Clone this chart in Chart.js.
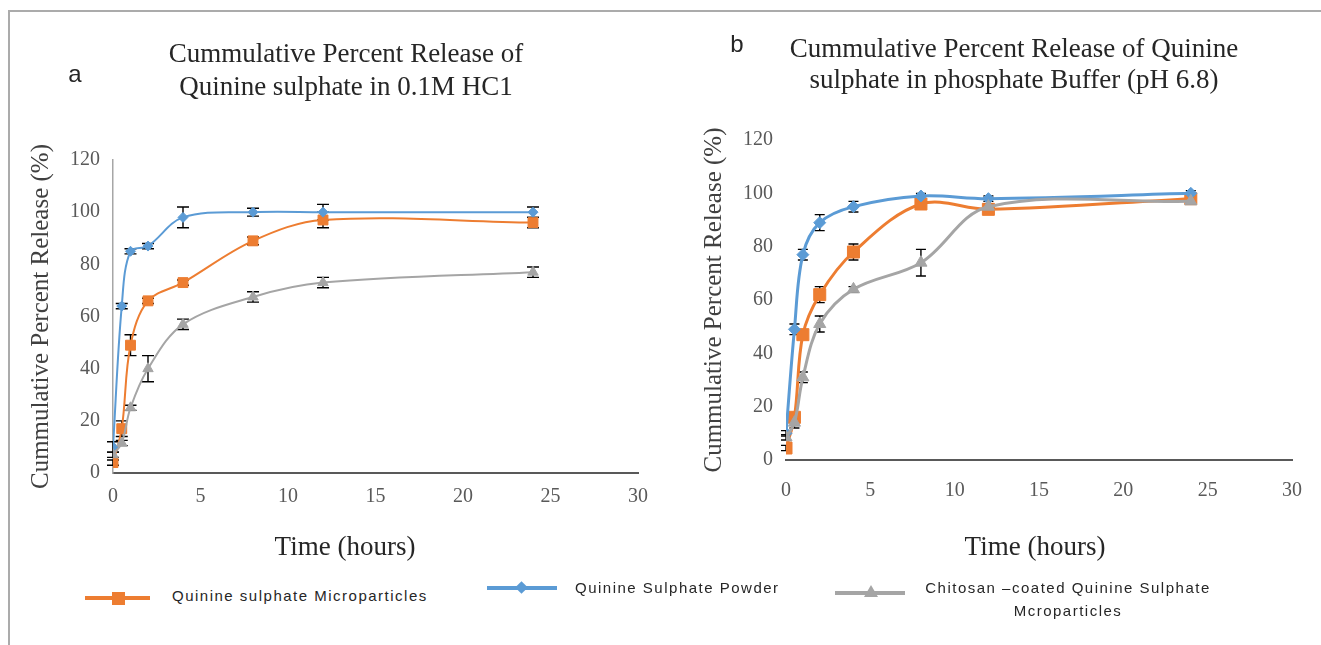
<!DOCTYPE html>
<html>
<head>
<meta charset="utf-8">
<script src="https://cdn.jsdelivr.net/npm/chart.js@4.4.1/dist/chart.umd.min.js"></script>
<style>
body { margin:0; background:#fff; width:1321px; height:645px; overflow:hidden; position:relative; }
#frame { position:absolute; left:8px; top:10px; right:0; bottom:0; border-top:2px solid #ababab; border-left:2px solid #ababab; }
#wrap-a { position:absolute; left:0; top:0; width:680px; height:580px; }
#wrap-b { position:absolute; left:680px; top:0; width:641px; height:580px; }
.lg-line { position:absolute; height:4px; }
.lg-text { position:absolute; font-family:"Liberation Sans", Arial, sans-serif; font-size:15px; letter-spacing:1.5px; color:#262626; line-height:23px; white-space:nowrap; }
</style>
</head>
<body>
<div id="frame"></div>
<div id="wrap-a"><canvas id="chart-a"></canvas></div>
<div id="wrap-b"><canvas id="chart-b"></canvas></div>

<div class="lg-line" style="left:85px; top:596px; width:65px; background:#ED7D31;"></div>
<div style="position:absolute; left:112px; top:592px; width:13px; height:13px; background:#ED7D31;"></div>
<div class="lg-text" style="left:172px; top:584px;">Quinine sulphate Microparticles</div>

<div class="lg-line" style="left:487px; top:586px; width:70px; background:#5B9BD5;"></div>
<div style="position:absolute; left:517px; top:583px; width:9px; height:9px; background:#5B9BD5; transform:rotate(45deg);"></div>
<div class="lg-text" style="left:575px; top:576px;">Quinine Sulphate Powder</div>

<div class="lg-line" style="left:835px; top:591px; width:70px; background:#A5A5A5;"></div>
<div style="position:absolute; left:864px; top:585px; width:0; height:0; border-left:7px solid transparent; border-right:7px solid transparent; border-bottom:12px solid #A5A5A5;"></div>
<div class="lg-text" style="left:918px; top:576px; width:300px; text-align:center;">Chitosan –coated Quinine Sulphate<br>Mcroparticles</div>

<script>
// sampling times (hours)
const hours = [0, 0.5, 1, 2, 4, 8, 12, 24];
const series_names = ["Quinine sulphate Microparticles", "Quinine Sulphate Powder", "Chitosan \u2013coated Quinine Sulphate Mcroparticles"];

// a: 0.1M HCl
const a_micro = [4, 17, 49, 66, 73, 89, 97, 96];
const a_powder = [10, 64, 85, 87, 98, 100, 100, 100];
const a_chitosan = [7, 11.5, 25, 40, 57, 67.5, 73, 77];
const a_micro_err = [1, 3, 4, 1, 1, 1.5, 3, 2];
const a_powder_err = [2, 1, 1, 1, 4, 1.5, 3, 2];
const a_chitosan_err = [1, 1, 1, 5, 2, 2, 2, 2];

// b: phosphate buffer pH 6.8
const b_micro = [4.5, 16, 47, 62, 78, 96, 94, 98];
const b_powder = [10, 49, 77, 89, 95, 99, 98, 100];
const b_chitosan = [8.5, 14, 31, 51, 64, 74, 95, 97];
const b_micro_err = [1, 1, 1, 3, 3, 1, 1, 1];
const b_powder_err = [1, 2, 2, 3, 2, 1, 1, 1];
const b_chitosan_err = [1, 2, 2, 3, 1, 5, 1, 1];

const x_ticks = [0, 5, 10, 15, 20, 25, 30];
const y_ticks = [0, 20, 40, 60, 80, 100, 120];

const colors = ["#ED7D31", "#5B9BD5", "#A5A5A5"];
const styles = ["rect", "rectRot", "triangle"];

function points(vals) {
    return hours.map((h, i) => ({x: h, y: vals[i]}));
}

// black error bars with caps, drawn behind the markers
const errorBars = {
    id: "errorBars",
    beforeDatasetsDraw(chart, args, opts) {
        const ctx = chart.ctx;
        const ys = chart.scales.y;
        ctx.save();
        ctx.strokeStyle = "#000";
        ctx.lineWidth = opts.width;
        chart.data.datasets.forEach((ds, i) => {
            const meta = chart.getDatasetMeta(i);
            meta.data.forEach((pt, j) => {
                const v = ds.data[j].y;
                const e = ds.errorBars[j];
                const top = ys.getPixelForValue(v + e);
                const bot = ys.getPixelForValue(v - e);
                ctx.beginPath();
                ctx.moveTo(pt.x, top);
                ctx.lineTo(pt.x, bot);
                ctx.moveTo(pt.x - opts.cap, top);
                ctx.lineTo(pt.x + opts.cap, top);
                ctx.moveTo(pt.x - opts.cap, bot);
                ctx.lineTo(pt.x + opts.cap, bot);
                ctx.stroke();
            });
        });
        ctx.restore();
    }
};

// panel letter, chart title and x axis title
const panelText = {
    id: "panelText",
    afterDraw(chart, args, opts) {
        const ctx = chart.ctx;
        ctx.save();
        ctx.textAlign = "center";
        ctx.textBaseline = "middle";
        opts.items.forEach(it => {
            ctx.font = it.font;
            ctx.fillStyle = it.color;
            it.lines.forEach((t, k) => ctx.fillText(t, it.x, it.y + k * (it.lineHeight || 0)));
        });
        ctx.restore();
    }
};

function make_datasets(vals, errs, sizes, lw) {
    const order = [2, 1, 0];
    return vals.map((v, i) => ({
        label: series_names[i],
        data: points(v),
        errorBars: errs[i],
        borderColor: colors[i],
        backgroundColor: colors[i],
        pointBackgroundColor: colors[i],
        pointBorderColor: colors[i],
        pointBorderWidth: 1,
        pointStyle: styles[i],
        pointRadius: sizes[i],
        borderWidth: lw,
        tension: 0.35,
        order: order[i],
    }));
}

function make_options(o) {
    return {
        responsive: true,
        maintainAspectRatio: false,
        animation: false,
        events: [],
        layout: {padding: {top: o.top, right: o.right, left: 0, bottom: 0}},
        plugins: {
            legend: {display: false},
            tooltip: {enabled: false},
            errorBars: {width: 1.4, cap: o.cap},
            panelText: {items: o.texts},
        },
        scales: {
            x: {
                type: "linear",
                min: 0,
                max: 30,
                afterBuildTicks: s => { s.ticks = x_ticks.map(v => ({value: v})); },
                afterFit: s => { s.height = o.xh; },
                ticks: {font: {family: "Liberation Serif", size: 20}, color: "#595959", padding: o.xpad},
                grid: {display: false, drawTicks: false},
                border: {display: true, color: "#595959", width: 2},
            },
            y: {
                min: 0,
                max: 120,
                afterBuildTicks: s => { s.ticks = y_ticks.map(v => ({value: v})); },
                afterFit: s => { s.width = o.yw; },
                ticks: {font: {family: "Liberation Serif", size: 20}, color: "#595959", padding: 13},
                grid: {display: false, drawTicks: false},
                border: {display: o.yborder, color: "#a6a6a6", width: 1.5},
                title: {
                    display: true,
                    text: "Cummulative Percent Release (%)",
                    font: {family: "Liberation Serif", size: 25},
                    color: "#404040",
                    padding: {top: o.ytitle, bottom: 0},
                },
            },
        },
    };
}

const serif_title = "27px 'Liberation Serif'";

new Chart(document.getElementById("chart-a"), {
    type: "line",
    data: {datasets: make_datasets([a_micro, a_powder, a_chitosan], [a_micro_err, a_powder_err, a_chitosan_err], [7, 5, 6], 2)},
    options: make_options({
        top: 160, right: 42, xh: 107, yw: 113, xpad: 12, cap: 6, yborder: true, ytitle: 26,
        texts: [
            {lines: ["a"], x: 75, y: 75, font: "24px 'Liberation Sans'", color: "#262626"},
            {lines: ["Cummulative Percent Release of", "Quinine sulphate in 0.1M HC1"], x: 346, y: 55, lineHeight: 33, font: serif_title, color: "#262626"},
            {lines: ["Time (hours)"], x: 345, y: 548, font: serif_title, color: "#262626"},
        ],
    }),
    plugins: [errorBars, panelText],
});

new Chart(document.getElementById("chart-b"), {
    type: "line",
    data: {datasets: make_datasets([b_micro, b_powder, b_chitosan], [b_micro_err, b_powder_err, b_chitosan_err], [8.5, 6, 7], 3)},
    options: make_options({
        top: 140, right: 24, xh: 120, yw: 106, xpad: 19, cap: 5, yborder: false, ytitle: 19,
        texts: [
            {lines: ["b"], x: 57, y: 45, font: "24px 'Liberation Sans'", color: "#262626"},
            {lines: ["Cummulative Percent Release of Quinine", "sulphate in phosphate Buffer (pH 6.8)"], x: 334, y: 50, lineHeight: 31, font: serif_title, color: "#262626"},
            {lines: ["Time (hours)"], x: 355, y: 548, font: serif_title, color: "#262626"},
        ],
    }),
    plugins: [errorBars, panelText],
});
</script>
</body>
</html>
